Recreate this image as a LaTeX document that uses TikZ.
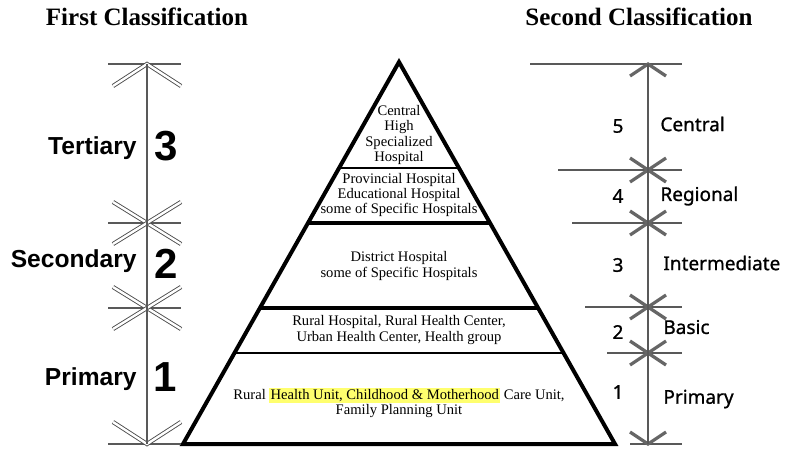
\documentclass[tikz,border=0pt]{standalone}
\usepackage{fontspec}
\setmainfont{Liberation Serif}
\newfontfamily\labelfont{Liberation Sans}
\newfontfamily\rankfont[FakeBold=1]{Noto Sans}
\definecolor{hilite}{RGB}{255,255,110}
\tikzset{
  axisline/.style={draw=black!65, line width=0.6pt},
  hollowbar/.style={draw=black!70, double=white, line width=0.45pt, double distance=1.2pt},
  solidbar/.style={draw=black!60, line width=1.6pt},
  level/.style={font=\fontsize{7.3}{7.6}\selectfont, align=center, inner sep=0pt},
  classname/.style={font=\labelfont\bfseries\fontsize{12.3}{14}\selectfont, anchor=east, inner sep=0pt},
  bignum/.style={font=\labelfont\bfseries\fontsize{21}{24}\selectfont, inner sep=0pt},
  rank/.style={font=\rankfont\fontsize{9.5}{11}\selectfont, inner sep=0pt},
}
\begin{document}
\begin{tikzpicture}[x=0.5pt,y=-0.5pt]
    \useasboundingbox (0,0) rectangle (795,451);
    % titles
    \node (title1) at (147,17) [font=\bfseries\fontsize{12.5}{14}\selectfont] {First Classification};
    \node (title2) at (639,17) [font=\bfseries\fontsize{12.5}{14}\selectfont] {Second Classification};

    % pyramid
    \coordinate (apex) at (399,62);
    \coordinate (bl) at (183,444);
    \coordinate (br) at (615,444);
    \begin{scope}
        \clip (apex) -- (bl) -- (br) -- cycle;
        \draw [line width=1pt] (168,168) -- (630,168);
        \draw [line width=1.6pt] (168,223) -- (630,223);
        \draw [line width=1.6pt] (168,308) -- (630,308);
        \draw [line width=1pt] (168,353) -- (630,353);
    \end{scope}
    \draw [line width=2pt, line join=miter] (apex) -- (bl) -- (br) -- cycle;

    \node (lvl5) at (399,135) [level] {Central\\High\\Specialized\\Hospital};
    \node (lvl4) at (399,195) [level] {Provincial Hospital\\Educational Hospital\\some of Specific Hospitals};
    \node (lvl3) at (399,266) [level] {District Hospital\\some of Specific Hospitals};
    \node (lvl2) at (399,330) [level] {Rural Hospital, Rural Health Center,\\Urban Health Center, Health group};
    \node (lvl1) at (399,403) [level] {Rural {\setlength\fboxsep{0.6pt}\colorbox{hilite}{Health Unit, Childhood \& Motherhood}} Care Unit,\\Family Planning Unit};

    % first classification axis
    \coordinate (ltop) at (147,64);
    \coordinate (lbot) at (147,444);
    \foreach \y in {64,223,308,444}
        \draw [axisline] (108,\y) -- (181,\y);
    \draw [hollowbar] (113,86) -- (ltop) -- (181,86);
    \draw [hollowbar] (113,422) -- (lbot) -- (181,422);
    \foreach \y in {223,308} {
        \draw [hollowbar] (113,\y-21) -- (181,\y+21);
        \draw [hollowbar] (113,\y+21) -- (181,\y-21);
    }
    \draw [axisline] (ltop) -- (lbot);

    \node (tert) at (137,148) [classname] {Tertiary};
    \node (sec) at (137,261) [classname] {Secondary};
    \node (prim) at (137,379) [classname] {Primary};
    \node (n3) at (166,146) [bignum] {3};
    \node (n2) at (166,264) [bignum] {2};
    \node (n1) at (165,377) [bignum] {1};

    % second classification axis
    \coordinate (rtop) at (648,64);
    \coordinate (rbot) at (648,444);
    \draw [axisline] (530,64) -- (682,64);
    \draw [axisline] (558,170) -- (682,170);
    \draw [axisline] (572,223) -- (682,223);
    \draw [axisline] (585,307) -- (682,307);
    \draw [axisline] (607,353) -- (682,353);
    \draw [axisline] (630,444) -- (682,444);
    \draw [solidbar] (630,76) -- (rtop) -- (666,76);
    \draw [solidbar] (630,432) -- (rbot) -- (666,432);
    \foreach \y in {170,223,307,353} {
        \draw [solidbar] (630,\y-12) -- (666,\y+12);
        \draw [solidbar] (630,\y+12) -- (666,\y-12);
    }
    \draw [axisline] (rtop) -- (rbot);

    \node (r5) at (618,126) [rank] {5};
    \node (r4) at (618,196) [rank] {4};
    \node (r3) at (618,265) [rank] {3};
    \node (r2) at (618,332) [rank] {2};
    \node (r1) at (618,392) [rank] {1};
    \node (central) at (660,124) [rank, anchor=west] {Central};
    \node (regional) at (660,196) [rank, anchor=west] {Regional};
    \node (inter) at (663,263) [rank, anchor=west] {Intermediate};
    \node (basic) at (663,327) [rank, anchor=west] {Basic};
    \node (primary) at (663,399) [rank, anchor=west] {Primary};
\end{tikzpicture}
\end{document}
